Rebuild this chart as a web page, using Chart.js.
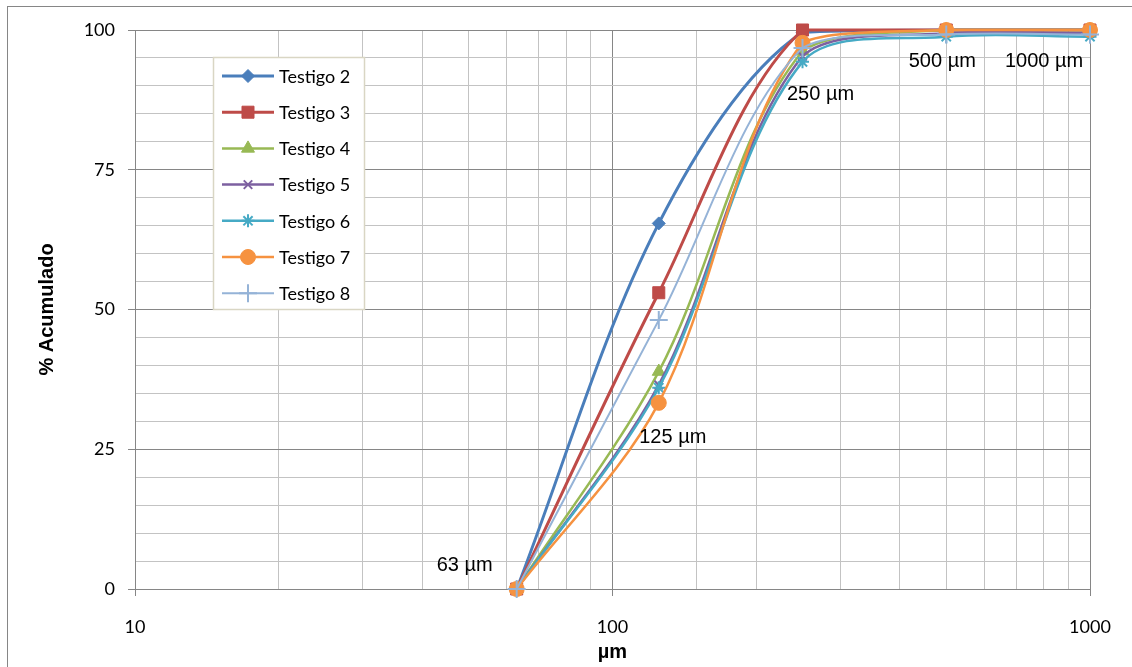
<!DOCTYPE html>
<html>
<head>
<meta charset="utf-8">
<script src="https://cdn.jsdelivr.net/npm/chart.js@4.4.0/dist/chart.umd.min.js"></script>
<style>
  html, body { margin: 0; padding: 0; background: #fff; }
  canvas { display: block; }
</style>
</head>
<body>
<canvas id="granChart" width="1132" height="667"></canvas>
<script>
// tamaños de tamiz (µm)
const sizes = [63, 125, 250, 500, 1000];
const sizeLabels = ['63 µm', '125 µm', '250 µm', '500 µm', '1000 µm'];

// % acumulado por testigo
const testigo2 = [0, 65.4, 99.6, 100, 100];
const testigo3 = [0, 53.0, 100, 100, 100];
const testigo4 = [0, 38.9, 96.2, 100, 100];
const testigo5 = [0, 36.5, 95.3, 99.4, 99.4];
const testigo6 = [0, 36.0, 94.3, 98.8, 98.8];
const testigo7 = [0, 33.3, 97.7, 100, 100];
const testigo8 = [0, 48.1, 96.8, 99.2, 99.2];

const seriesNames = ['Testigo 2', 'Testigo 3', 'Testigo 4', 'Testigo 5', 'Testigo 6', 'Testigo 7', 'Testigo 8'];
const seriesValues = [testigo2, testigo3, testigo4, testigo5, testigo6, testigo7, testigo8];

// estilos
const colors = ['#4a7ebb', '#be4b48', '#98b954', '#7d60a0', '#46aac5', '#f69240', '#95b3d7'];
const styles = ['rectRot', 'rect', 'triangle', 'crossRot', 'star', 'circle', 'cross'];
const radii = [6.5, 8.5, 7.5, 6, 6.5, 7.5, 9];
const widths = [3, 3, 2.5, 2.5, 2.5, 2.5, 2];

// posición de las etiquetas respecto del punto de Testigo 6 (px)
const labelOffsets = [[-52, -24], [14, 50], [18, 33], [-4, 25], [-46, 25]];

const MAJOR = '#868686';
const MINOR = '#c3c3c3';

function isDecade(v) {
    const l = Math.log10(v);
    return Math.abs(l - Math.round(l)) < 1e-6;
}

const datasets = seriesNames.map((name, i) => ({
    label: name,
    data: sizes.map((s, j) => ({ x: s, y: seriesValues[i][j] })),
    borderColor: colors[i],
    backgroundColor: colors[i],
    pointBackgroundColor: colors[i],
    pointBorderColor: colors[i],
    pointStyle: styles[i],
    pointRadius: radii[i],
    pointBorderWidth: (styles[i].indexOf('cross') === 0 || styles[i] === 'star') ? 2 : 1,
    borderWidth: widths[i],
    tension: 0.33,
    clip: false,
    order: seriesNames.length - i
}));

// borde exterior del gráfico
const frame = {
    id: 'frame',
    beforeDraw(chart) {
        const ctx = chart.ctx;
        ctx.save();
        ctx.fillStyle = '#fff';
        ctx.fillRect(0, 0, chart.width, chart.height);
        ctx.strokeStyle = MAJOR;
        ctx.lineWidth = 1;
        ctx.strokeRect(7.5, 6.5, 1300, 800);
        ctx.restore();
    }
};

// etiquetas de tamaño junto a los puntos
const sizeText = {
    id: 'sizeText',
    afterDatasetsDraw(chart) {
        const ctx = chart.ctx;
        const xs = chart.scales.x, ys = chart.scales.y;
        ctx.save();
        ctx.font = '20px "Liberation Sans", Arial, sans-serif';
        ctx.fillStyle = '#000';
        ctx.textAlign = 'center';
        ctx.textBaseline = 'middle';
        sizes.forEach((s, j) => {
            const px = xs.getPixelForValue(s) + labelOffsets[j][0];
            const py = ys.getPixelForValue(testigo6[j]) + labelOffsets[j][1];
            ctx.fillText(sizeLabels[j], px, py);
        });
        ctx.restore();
    }
};

// leyenda dentro del área
const boxLegend = {
    id: 'boxLegend',
    afterDraw(chart) {
        const ctx = chart.ctx;
        ctx.save();
        ctx.fillStyle = '#fff';
        ctx.fillRect(213, 57, 152, 253);
        ctx.strokeStyle = '#d9d6c4';
        ctx.lineWidth = 1.5;
        ctx.strokeRect(213.5, 57.5, 151, 252);
        chart.data.datasets.forEach((ds, i) => {
            const y = 76 + i * 36.2;
            ctx.strokeStyle = ds.borderColor;
            ctx.lineWidth = ds.borderWidth;
            ctx.beginPath();
            ctx.moveTo(222, y);
            ctx.lineTo(274, y);
            ctx.stroke();
            ctx.fillStyle = ds.pointBackgroundColor;
            ctx.lineWidth = ds.pointBorderWidth;
            Chart.helpers.drawPoint(ctx, {
                pointStyle: ds.pointStyle,
                radius: ds.pointRadius,
                rotation: 0,
                borderWidth: ds.pointBorderWidth
            }, 248, y);
            ctx.fillStyle = '#000';
            ctx.font = '18px Lato, sans-serif';
            ctx.textAlign = 'left';
            ctx.textBaseline = 'middle';
            ctx.fillText(ds.label, 279, y + 1);
        });
        ctx.restore();
    }
};

const chart = new Chart(document.getElementById('granChart'), {
    type: 'line',
    data: { datasets: datasets },
    plugins: [frame, sizeText, boxLegend],
    options: {
        responsive: false,
        animation: false,
        layout: { padding: { top: 30, right: 42, left: 0, bottom: 0 } },
        plugins: {
            legend: { display: false },
            tooltip: { enabled: false }
        },
        scales: {
            x: {
                type: 'logarithmic',
                min: 10,
                max: 1000,
                afterFit(scale) { scale.height = 78; },
                border: { color: MAJOR, width: 1 },
                grid: {
                    color: c => (c.tick && isDecade(c.tick.value)) ? MAJOR : MINOR,
                    tickColor: c => (c.tick && isDecade(c.tick.value)) ? MAJOR : 'rgba(0,0,0,0)',
                    tickLength: 7,
                    lineWidth: 1
                },
                ticks: {
                    autoSkip: false,
                    maxRotation: 0,
                    padding: 20,
                    color: '#000',
                    font: { family: 'Lato', size: 18 },
                    callback: v => isDecade(v) ? String(Math.round(v)) : ''
                },
                title: {
                    display: true,
                    text: 'µm',
                    color: '#000',
                    font: { family: '"Liberation Sans"', size: 20, weight: 'bold' },
                    padding: { top: 0, bottom: 3 }
                }
            },
            y: {
                min: 0,
                max: 100,
                afterFit(scale) { scale.width = 135; },
                border: { color: MAJOR, width: 1 },
                grid: {
                    color: c => (c.tick && c.tick.value % 25 === 0) ? MAJOR : MINOR,
                    tickColor: c => (c.tick && c.tick.value % 25 === 0) ? MAJOR : 'rgba(0,0,0,0)',
                    tickLength: 7,
                    lineWidth: 1
                },
                ticks: {
                    stepSize: 5,
                    autoSkip: false,
                    padding: 13,
                    color: '#000',
                    font: { family: 'Lato', size: 18 },
                    callback: v => (v % 25 === 0) ? String(v) : ''
                },
                title: {
                    display: true,
                    text: '% Acumulado',
                    color: '#000',
                    font: { family: '"Liberation Sans"', size: 20, weight: 'bold' },
                    padding: { top: 35, bottom: 0 }
                }
            }
        }
    }
});
</script>
</body>
</html>
